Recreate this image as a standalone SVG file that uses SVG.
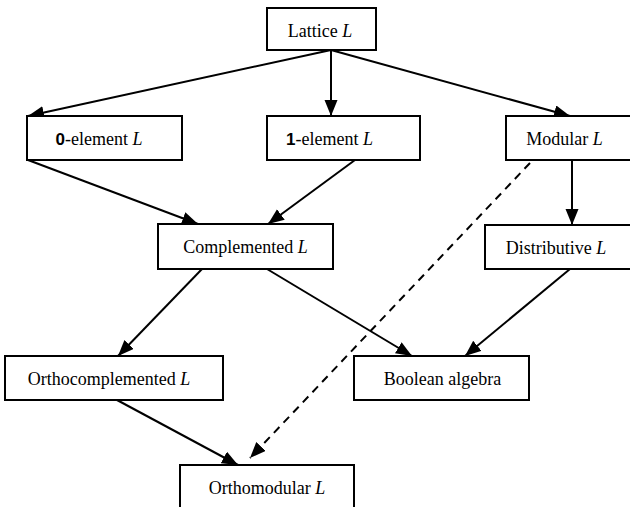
<svg xmlns="http://www.w3.org/2000/svg" width="630" height="507" viewBox="0 0 630 507">
<defs>
<marker id="ah" markerUnits="userSpaceOnUse" markerWidth="17" markerHeight="14" refX="16" refY="6.5" orient="auto">
<path d="M0,0 L16,6.5 L0,13 Z" fill="#000"/>
</marker>
<style>
rect{fill:#fff;stroke:#000;stroke-width:2}
text{font-family:"Liberation Serif","Times New Roman",serif;font-size:18px;fill:#000;text-anchor:middle}
.i{font-style:italic}
.b{font-family:"Liberation Sans",Arial,sans-serif;font-weight:bold;font-size:17px}
.c line{stroke:#000;stroke-width:2;marker-end:url(#ah)}
.c .d{stroke-dasharray:8,6}
</style>
</defs>
<rect x="0" y="0" width="630" height="507" style="fill:#fff;stroke:none"/>
<g class="c" id="connectors">
<line x1="331" y1="50" x2="28" y2="116"/>
<line x1="331" y1="50" x2="331" y2="116"/>
<line x1="331" y1="50" x2="570" y2="116"/>
<line x1="28" y1="160" x2="198" y2="224"/>
<line x1="355" y1="160" x2="268" y2="224"/>
<line x1="572" y1="160" x2="572" y2="225"/>
<line class="d" x1="530" y1="163" x2="250" y2="458"/>
<line x1="202" y1="269" x2="118" y2="356"/>
<line x1="267" y1="269" x2="412" y2="356"/>
<line x1="570" y1="269" x2="465" y2="356"/>
<line x1="117" y1="400" x2="238" y2="465"/>
</g>
<g id="lattice"><rect x="267" y="8" width="109" height="42"/><text x="320" y="37">Lattice <tspan class="i">L</tspan></text></g>
<g id="zero"><rect x="27" y="116" width="155" height="44"/><text x="99" y="145"><tspan class="b">0</tspan>-element <tspan class="i">L</tspan></text></g>
<g id="one"><rect x="267" y="116" width="153" height="44"/><text x="329.5" y="145"><tspan class="b">1</tspan>-element <tspan class="i">L</tspan></text></g>
<g id="modular"><rect x="506" y="116" width="130" height="44"/><text x="564.5" y="145">Modular <tspan class="i">L</tspan></text></g>
<g id="complemented"><rect x="158" y="224" width="175" height="45"/><text x="245.5" y="253">Complemented <tspan class="i">L</tspan></text></g>
<g id="distributive"><rect x="485" y="225" width="150" height="44"/><text x="556" y="254">Distributive <tspan class="i">L</tspan></text></g>
<g id="orthocomplemented"><rect x="5" y="356" width="218" height="44"/><text x="109" y="385">Orthocomplemented <tspan class="i">L</tspan></text></g>
<g id="boolean"><rect x="354" y="356" width="175" height="44"/><text x="442.5" y="385">Boolean algebra</text></g>
<g id="orthomodular"><rect x="180" y="465" width="174" height="50"/><text x="267" y="494">Orthomodular <tspan class="i">L</tspan></text></g>
</svg>
